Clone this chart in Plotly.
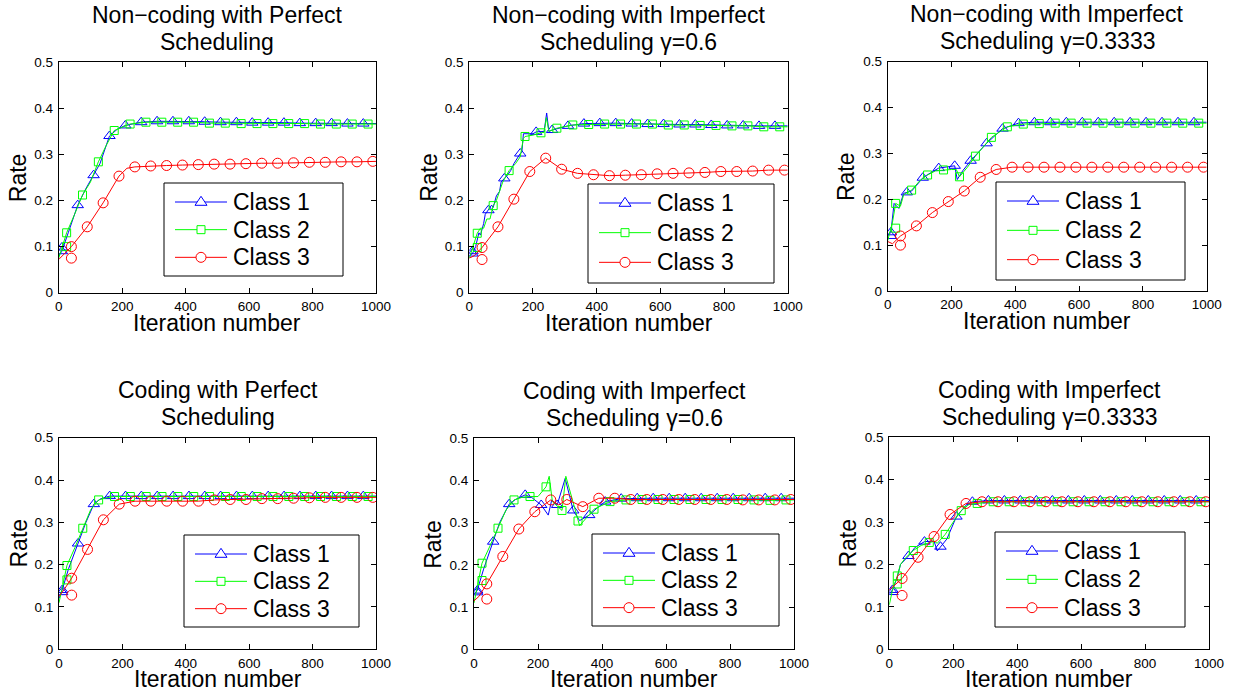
import plotly.graph_objects as go

W, H = 1236, 698
FONT = "Liberation Sans, Arial, Helvetica, sans-serif"

TITLES = [
    ("Non\u2212coding with Perfect", "Scheduling"),
    ("Non\u2212coding with Imperfect", "Scheduling \u03b3=0.6"),
    ("Non\u2212coding with Imperfect", "Scheduling \u03b3=0.3333"),
    ("Coding with Perfect", "Scheduling"),
    ("Coding with Imperfect", "Scheduling \u03b3=0.6"),
    ("Coding with Imperfect", "Scheduling \u03b3=0.3333"),
]
CLASS_NAMES = ["Class 1", "Class 2", "Class 3"]
X_TICKS = [0, 200, 400, 600, 800, 1000]
Y_TICKS = [0, 0.1, 0.2, 0.3, 0.4, 0.5]

# marker iterations for each class
MX1 = list(range(10, 1000, 50))
MX2 = list(range(25, 1000, 50))
MX3 = list(range(40, 1000, 50))

# ---------------- Panel 1: Non-coding, perfect scheduling ----------------
p1_c1_my = [0.09, 0.19, 0.255, 0.34, 0.363, 0.37, 0.372, 0.372, 0.372, 0.371,
            0.37, 0.37, 0.369, 0.369, 0.369, 0.368, 0.368, 0.368, 0.367, 0.367]
p1_c1_lx = [0, 30, 85, 130, 185]
p1_c1_ly = [0.08, 0.13, 0.225, 0.28, 0.355]
p1_c1_dup = 0.098
p1_c2_my = [0.13, 0.212, 0.284, 0.352, 0.366, 0.37, 0.37, 0.37, 0.37, 0.368,
            0.368, 0.367, 0.367, 0.367, 0.367, 0.367, 0.366, 0.366, 0.366, 0.366]
p1_c2_lx = [0, 50, 100, 150]
p1_c2_ly = [0.075, 0.17, 0.24, 0.32]
p1_c2_dup = 0.1
p1_c3_my = [0.1, 0.143, 0.195, 0.253, 0.273, 0.275, 0.276, 0.277, 0.278, 0.279,
            0.279, 0.28, 0.281, 0.281, 0.282, 0.283, 0.283, 0.284, 0.284, 0.285]
p1_c3_lx = [0, 215]
p1_c3_ly = [0.072, 0.27]
p1_c3_dup = 0.075

# ---------------- Panel 2: Non-coding, imperfect gamma=0.6 ----------------
p2_c1_my = [0.085, 0.179, 0.248, 0.302, 0.349, 0.353, 0.362, 0.367, 0.368, 0.368,
            0.367, 0.366, 0.366, 0.365, 0.365, 0.364, 0.363, 0.363, 0.362, 0.362]
p2_c1_lx = [0, 20, 30, 35, 45, 50, 70, 75, 85, 95, 100, 120, 130, 140, 165, 170,
            200, 235, 243, 250, 280]
p2_c1_ly = [0.08, 0.1, 0.13, 0.125, 0.15, 0.17, 0.19, 0.185, 0.21, 0.22, 0.24,
            0.255, 0.265, 0.28, 0.305, 0.345, 0.345, 0.35, 0.39, 0.35, 0.357]
p2_c1_dup = 0.09
p2_c2_my = [0.129, 0.189, 0.265, 0.339, 0.347, 0.357, 0.364, 0.365, 0.366, 0.366,
            0.366, 0.366, 0.364, 0.364, 0.363, 0.363, 0.362, 0.362, 0.36, 0.36]
p2_c2_lx = [0, 35, 45, 55, 65, 85, 95, 105, 145, 160, 170, 200, 235, 242, 250]
p2_c2_ly = [0.075, 0.14, 0.14, 0.16, 0.16, 0.2, 0.22, 0.24, 0.28, 0.295, 0.335,
            0.342, 0.348, 0.38, 0.35]
p2_c2_dup = 0.098
p2_c3_my = [0.098, 0.143, 0.203, 0.263, 0.292, 0.268, 0.259, 0.256, 0.254, 0.255,
            0.256, 0.258, 0.259, 0.26, 0.261, 0.263, 0.263, 0.264, 0.266, 0.266]
p2_c3_lx = [0, 15]
p2_c3_ly = [0.075, 0.08]
p2_c3_dup = 0.072

# ---------------- Panel 3: Non-coding, imperfect gamma=0.3333 ----------------
p3_c1_my = [0.128, 0.215, 0.247, 0.268, 0.273, 0.284, 0.322, 0.354, 0.366, 0.368,
            0.368, 0.368, 0.368, 0.368, 0.368, 0.368, 0.368, 0.368, 0.368, 0.368]
p3_c1_lx = [0, 20, 35, 50, 75, 90, 135, 218, 235]
p3_c1_ly = [0.12, 0.191, 0.18, 0.213, 0.218, 0.23, 0.258, 0.243, 0.262]
p3_c1_dup = 0.12
p3_c2_my = [0.191, 0.22, 0.253, 0.264, 0.249, 0.294, 0.335, 0.358, 0.364, 0.365,
            0.366, 0.366, 0.366, 0.366, 0.366, 0.366, 0.366, 0.366, 0.366, 0.366]
p3_c2_lx = [0, 15, 40, 50, 100, 150, 200, 215, 250]
p3_c2_ly = [0.11, 0.15, 0.185, 0.21, 0.24, 0.262, 0.265, 0.265, 0.27]
p3_c2_dup = 0.137
p3_c3_my = [0.12, 0.142, 0.171, 0.195, 0.218, 0.248, 0.265, 0.27, 0.27, 0.27,
            0.27, 0.27, 0.27, 0.27, 0.27, 0.27, 0.27, 0.27, 0.27, 0.27]
p3_c3_lx = [0, 15]
p3_c3_ly = [0.108, 0.103]
p3_c3_dup = 0.1

# ---------------- Panel 4: Coding, perfect scheduling ----------------
p4_c1_my = [0.14, 0.25, 0.343, 0.362, 0.362, 0.362, 0.362, 0.362, 0.362, 0.362,
            0.362, 0.362, 0.362, 0.362, 0.362, 0.362, 0.362, 0.362, 0.362, 0.362]
p4_c1_lx = [0, 30, 85, 130, 150]
p4_c1_ly = [0.12, 0.19, 0.3, 0.355, 0.36]
p4_c1_dup = 0.135
p4_c2_my = [0.198, 0.286, 0.353, 0.361, 0.361, 0.361, 0.361, 0.361, 0.361, 0.361,
            0.361, 0.361, 0.361, 0.361, 0.361, 0.361, 0.361, 0.361, 0.361, 0.361]
p4_c2_lx = [0, 15, 50, 100, 150]
p4_c2_ly = [0.11, 0.16, 0.24, 0.33, 0.358]
p4_c2_dup = 0.164
p4_c3_my = [0.168, 0.236, 0.306, 0.343, 0.35, 0.35, 0.35, 0.35, 0.35, 0.353,
            0.354, 0.354, 0.356, 0.356, 0.357, 0.358, 0.359, 0.359, 0.359, 0.359]
p4_c3_lx = [0, 15]
p4_c3_ly = [0.125, 0.14]
p4_c3_dup = 0.128

# ---------------- Panel 5: Coding, imperfect gamma=0.6 ----------------
p5_c1_my = [0.139, 0.255, 0.344, 0.366, 0.342, 0.342, 0.329, 0.318, 0.35, 0.357,
            0.358, 0.358, 0.358, 0.358, 0.358, 0.358, 0.358, 0.358, 0.358, 0.358]
p5_c1_lx = [0, 30, 80, 130, 180, 232, 243, 285, 330, 385]
p5_c1_ly = [0.13, 0.19, 0.3, 0.355, 0.36, 0.318, 0.354, 0.405, 0.305, 0.335]
p5_c1_dup = 0.135
p5_c2_my = [0.204, 0.287, 0.354, 0.362, 0.385, 0.329, 0.304, 0.332, 0.35, 0.354,
            0.355, 0.355, 0.355, 0.355, 0.355, 0.355, 0.355, 0.354, 0.353, 0.354]
p5_c2_lx = [0, 50, 100, 150, 200, 235, 245, 260, 287, 330]
p5_c2_ly = [0.11, 0.245, 0.33, 0.36, 0.362, 0.41, 0.35, 0.34, 0.41, 0.293]
p5_c2_dup = 0.163
p5_c3_my = [0.155, 0.22, 0.285, 0.326, 0.354, 0.355, 0.338, 0.358, 0.358, 0.355,
            0.355, 0.355, 0.355, 0.355, 0.355, 0.355, 0.354, 0.354, 0.354, 0.355]
p5_c3_lx = [0, 15, 265]
p5_c3_ly = [0.115, 0.125, 0.342]
p5_c3_dup = 0.119

# ---------------- Panel 6: Coding, imperfect gamma=0.3333 ----------------
p6_c1_my = [0.14, 0.22, 0.254, 0.242, 0.313, 0.348, 0.351, 0.351, 0.351, 0.351,
            0.351, 0.351, 0.351, 0.351, 0.351, 0.351, 0.351, 0.351, 0.351, 0.351]
p6_c1_lx = [0, 25, 35, 80, 140, 150, 180, 240]
p6_c1_ly = [0.13, 0.17, 0.2, 0.24, 0.255, 0.232, 0.26, 0.34]
p6_c1_dup = 0.135
p6_c2_my = [0.173, 0.233, 0.252, 0.271, 0.327, 0.344, 0.348, 0.348, 0.348, 0.348,
            0.348, 0.348, 0.348, 0.348, 0.348, 0.348, 0.348, 0.348, 0.348, 0.348]
p6_c2_lx = [0, 10, 35, 50, 100, 140, 150, 200, 250]
p6_c2_ly = [0.105, 0.14, 0.2, 0.215, 0.245, 0.255, 0.25, 0.3, 0.342]
p6_c2_dup = 0.154
p6_c3_my = [0.167, 0.217, 0.266, 0.318, 0.344, 0.348, 0.348, 0.348, 0.348, 0.348,
            0.348, 0.348, 0.348, 0.348, 0.348, 0.348, 0.348, 0.348, 0.348, 0.348]
p6_c3_lx = [0, 15]
p6_c3_ly = [0.14, 0.15]
p6_c3_dup = 0.127

PANELS = [
    [(p1_c1_lx, p1_c1_ly, p1_c1_my, p1_c1_dup), (p1_c2_lx, p1_c2_ly, p1_c2_my, p1_c2_dup), (p1_c3_lx, p1_c3_ly, p1_c3_my, p1_c3_dup)],
    [(p2_c1_lx, p2_c1_ly, p2_c1_my, p2_c1_dup), (p2_c2_lx, p2_c2_ly, p2_c2_my, p2_c2_dup), (p2_c3_lx, p2_c3_ly, p2_c3_my, p2_c3_dup)],
    [(p3_c1_lx, p3_c1_ly, p3_c1_my, p3_c1_dup), (p3_c2_lx, p3_c2_ly, p3_c2_my, p3_c2_dup), (p3_c3_lx, p3_c3_ly, p3_c3_my, p3_c3_dup)],
    [(p4_c1_lx, p4_c1_ly, p4_c1_my, p4_c1_dup), (p4_c2_lx, p4_c2_ly, p4_c2_my, p4_c2_dup), (p4_c3_lx, p4_c3_ly, p4_c3_my, p4_c3_dup)],
    [(p5_c1_lx, p5_c1_ly, p5_c1_my, p5_c1_dup), (p5_c2_lx, p5_c2_ly, p5_c2_my, p5_c2_dup), (p5_c3_lx, p5_c3_ly, p5_c3_my, p5_c3_dup)],
    [(p6_c1_lx, p6_c1_ly, p6_c1_my, p6_c1_dup), (p6_c2_lx, p6_c2_ly, p6_c2_my, p6_c2_dup), (p6_c3_lx, p6_c3_ly, p6_c3_my, p6_c3_dup)],
]
MARKER_X = [MX1, MX2, MX3]

# ---------------- styling ----------------
COLORS = ["rgb(0,0,255)", "rgb(0,255,0)", "rgb(255,0,0)"]
SYMBOLS = ["triangle-up-open", "square-open", "circle-open"]
MSIZES = [10, 8, 10]

# axes boxes in pixels: left, right, top, bottom
AX_PX = [
    (58.7, 376.0, 62.3, 292.7),
    (469.3, 787.7, 62.3, 292.7),
    (887.7, 1206.7, 61.7, 291.0),
    (59.0, 376.0, 437.7, 649.3),
    (474.0, 794.0, 438.3, 649.3),
    (889.3, 1209.0, 437.3, 649.3),
]
# legend boxes in pixels: left, top, right, bottom
LEG_PX = [
    (164, 183, 343, 276),
    (588, 184, 774, 283),
    (996, 182, 1185, 280),
    (184, 535, 359, 627),
    (592, 534, 779, 626),
    (995, 532, 1185, 627),
]


def px(x):
    return x / W


def py(y):
    return 1 - y / H


fig = go.Figure()
annotations = []
shapes = []
layout = {}

for p, classes in enumerate(PANELS):
    k = p + 1
    xa = "x" if k == 1 else f"x{k}"
    ya = "y" if k == 1 else f"y{k}"
    for c, (lx, ly, my, dup) in enumerate(classes):
        mx = MARKER_X[c]
        pts = sorted(list(zip(lx, ly)) + list(zip(mx, my)))
        pts.append((1000, my[-1]))
        fig.add_trace(go.Scatter(
            x=[q[0] for q in pts], y=[q[1] for q in pts], mode="lines",
            line=dict(color=COLORS[c], width=1), xaxis=xa, yaxis=ya,
            showlegend=False, hoverinfo="skip"))
        fig.add_trace(go.Scatter(
            x=mx + [mx[0]], y=my + [dup], mode="markers", name=CLASS_NAMES[c],
            marker=dict(symbol=SYMBOLS[c], size=MSIZES[c], color=COLORS[c],
                        line=dict(width=1, color=COLORS[c])),
            xaxis=xa, yaxis=ya, showlegend=False))

    l, r, t, b = AX_PX[p]
    axis_common = dict(showgrid=False, zeroline=False, showline=True,
                       linecolor="black", linewidth=1, mirror="allticks",
                       ticks="inside", ticklen=5, tickcolor="black",
                       automargin=False,
                       tickfont=dict(family=FONT, size=13.5, color="black"))
    layout["xaxis" if k == 1 else f"xaxis{k}"] = dict(
        domain=[l / W, r / W], range=[0, 1000], tickvals=X_TICKS,
        anchor=ya, ticklabelstandoff=1, **axis_common)
    layout["yaxis" if k == 1 else f"yaxis{k}"] = dict(
        domain=[1 - b / H, 1 - t / H], range=[0, 0.5], tickvals=Y_TICKS,
        anchor=xa, ticklabelstandoff=2, **axis_common)

    # ---- legend box drawn in paper space ----
    L0, T0, R0, B0 = LEG_PX[p]
    shapes.append(dict(type="rect", xref="paper", yref="paper",
                       x0=px(L0), x1=px(R0), y0=py(B0), y1=py(T0),
                       line=dict(color="black", width=1), fillcolor="white",
                       layer="above"))
    row_h = (B0 - T0 - 10) / 3.0
    for c in range(3):
        cy = T0 + 19 + c * row_h
        x_a, x_b = L0 + 11, L0 + 63
        xm = (x_a + x_b) / 2
        shapes.append(dict(type="line", xref="paper", yref="paper",
                           x0=px(x_a), x1=px(x_b), y0=py(cy), y1=py(cy),
                           line=dict(color=COLORS[c], width=1), layer="above"))
        if c == 0:
            s = 6
            path = (f"M{px(xm - s)},{py(cy + s * 0.55)} L{px(xm + s)},{py(cy + s * 0.55)} "
                    f"L{px(xm)},{py(cy - s * 0.95)} Z")
            shapes.append(dict(type="path", xref="paper", yref="paper", path=path,
                               line=dict(color=COLORS[c], width=1),
                               fillcolor="white", layer="above"))
        elif c == 1:
            s = 4
            shapes.append(dict(type="rect", xref="paper", yref="paper",
                               x0=px(xm - s), x1=px(xm + s), y0=py(cy + s), y1=py(cy - s),
                               line=dict(color=COLORS[c], width=1),
                               fillcolor="white", layer="above"))
        else:
            s = 5
            shapes.append(dict(type="circle", xref="paper", yref="paper",
                               x0=px(xm - s), x1=px(xm + s), y0=py(cy + s), y1=py(cy - s),
                               line=dict(color=COLORS[c], width=1),
                               fillcolor="white", layer="above"))
        annotations.append(dict(text=CLASS_NAMES[c], x=px(L0 + 67), y=py(cy),
                                xref="paper", yref="paper", showarrow=False,
                                xanchor="left", yanchor="middle",
                                font=dict(family=FONT, size=23, color="black")))

    cx = (l + r) / 2 / W
    annotations.append(dict(text=TITLES[p][0], x=cx, y=py(t - 47.5),
                            xref="paper", yref="paper", showarrow=False,
                            xanchor="center", yanchor="middle",
                            font=dict(family=FONT, size=23, color="black")))
    annotations.append(dict(text=TITLES[p][1], x=cx, y=py(t - 20.5),
                            xref="paper", yref="paper", showarrow=False,
                            xanchor="center", yanchor="middle",
                            font=dict(family=FONT, size=23, color="black")))
    annotations.append(dict(text="Iteration number", x=cx, y=py(b + 30),
                            xref="paper", yref="paper", showarrow=False,
                            xanchor="center", yanchor="middle",
                            font=dict(family=FONT, size=23, color="black")))
    annotations.append(dict(text="Rate", x=px(l - 41), y=py((t + b) / 2),
                            xref="paper", yref="paper", showarrow=False,
                            textangle=-90, xanchor="center", yanchor="middle",
                            font=dict(family=FONT, size=23, color="black")))

fig.update_layout(
    width=W, height=H, margin=dict(l=0, r=0, t=0, b=0, autoexpand=False),
    paper_bgcolor="white", plot_bgcolor="white",
    font=dict(family=FONT, color="black"), showlegend=False,
    annotations=annotations, shapes=shapes, **layout)

fig.write_html(
    "out.html", config={"displayModeBar": False},
    post_script="document.body.style.margin='0';document.body.style.padding='0';"
                "document.documentElement.style.overflow='hidden';")
